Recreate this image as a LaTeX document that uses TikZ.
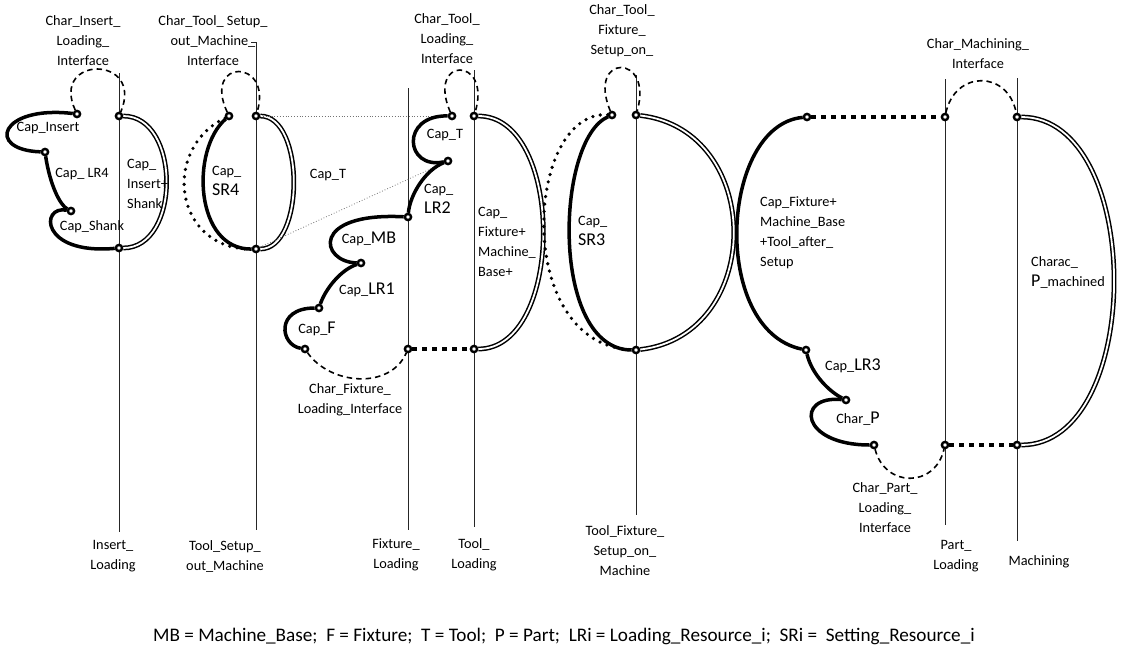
\documentclass[tikz,border=0pt]{standalone}
\usepackage{fontspec}
\setmainfont{Carlito}
\newcommand\bigt[1]{{\fontsize{18}{20}\selectfont #1}}
\tikzset{
  x=1pt, y=-1pt,
  vline/.style={draw=black!85, line width=0.9pt},
  nd/.style={circle, draw, line width=2.4pt, fill=white, inner sep=0pt, minimum size=6.2pt},
  thk/.style={line width=3.5pt},
  dbl/.style={double, line width=1.5pt, double distance=1.8pt},
  dashc/.style={line width=1.6pt, dash pattern=on 5.5pt off 4pt},
  sqdots/.style={line width=4.5pt, dash pattern=on 5pt off 5pt},
  rdots/.style={line width=3.6pt, dash pattern=on 0pt off 7.5pt, line cap=round},
  gdot/.style={draw=black!55, line width=0.8pt, dotted},
  lbl/.style={font=\fontsize{14.3}{20}\selectfont, align=center, inner sep=0pt},
  lbll/.style={font=\fontsize{14.3}{20}\selectfont, align=left, inner sep=0pt, anchor=west},
}
\begin{document}
\begin{tikzpicture}
\useasboundingbox (0,0) rectangle (1124,654);
% vertical lines
\coordinate (t1) at (119,73);  \coordinate (b1) at (119,532);
\coordinate (t2) at (256,42);  \coordinate (b2) at (256,530);
\coordinate (t3) at (408,88);  \coordinate (b3) at (408,530);
\coordinate (t4) at (474,70);  \coordinate (b4) at (474,527);
\coordinate (t5) at (636,75);  \coordinate (b5) at (636,515);
\coordinate (t6) at (945,79);  \coordinate (b6) at (945,525);
\coordinate (t7) at (1017,78); \coordinate (b7) at (1017,541);
\foreach \i in {1,...,7} {\draw[vline] (t\i) -- (b\i);}
\draw[vline] (t2) -- ++(-5,0);
% nodes
\node[nd] (n1a) at (77,114) {};
\node[nd] (n1b) at (119,116) {};
\node[nd] (n1c) at (45,152) {};
\node[nd] (n1d) at (71,211) {};
\node[nd] (n1e) at (119,248) {};
\node[nd] (n2a) at (229,116) {};
\node[nd] (n2b) at (256,116) {};
\node[nd] (n2c) at (256,249) {};
\node[nd] (n3a) at (452,116) {};
\node[nd] (n3b) at (474,116) {};
\node[nd] (n3c) at (448,161) {};
\node[nd] (n3d) at (408,217) {};
\node[nd] (n3e) at (361,263) {};
\node[nd] (n3f) at (319,308) {};
\node[nd] (n3g) at (305,349) {};
\node[nd] (n3h) at (408,349) {};
\node[nd] (n3i) at (474,349) {};
\node[nd] (n4a) at (612,115) {};
\node[nd] (n4b) at (636,115) {};
\node[nd] (n4c) at (636,350) {};
\node[nd] (n5a) at (807,117) {};
\node[nd] (n5b) at (945,117) {};
\node[nd] (n5c) at (1017,117) {};
\node[nd] (n5d) at (806,350) {};
\node[nd] (n5e) at (846,400) {};
\node[nd] (n5f) at (874,445) {};
\node[nd] (n5g) at (945,445) {};
\node[nd] (n5h) at (1017,445) {};
% group 1
\draw[dashc] (n1a) .. controls (50,55) and (145,55) .. (n1b);
\draw[thk] (n1a) .. controls (0,105) and (-15,150) .. (n1c);
\draw[thk] (n1c) .. controls (50,185) and (60,205) .. (n1d);
\draw[thk] (n1d) .. controls (40,205) and (40,255) .. (n1e);
\draw[dbl] (n1b) .. controls (181,116) and (181,248) .. (n1e);
% group 2
\draw[rdots] (n2a) .. controls (160,150) and (175,250) .. (n2c);
\draw[dashc] (n2a) .. controls (202,58) and (273,58) .. (n2b);
\draw[thk] (n2a) .. controls (190,150) and (195,250) .. (n2c);
\draw[dbl] (n2b) .. controls (305,116) and (305,249) .. (n2c);
\draw[gdot] (n2b) -- (n3a);
\draw[gdot] (n2c) -- (n3c);
% group 3
\draw[dashc] (n3a) .. controls (426,56) and (492,56) .. (n3b);
\draw[thk] (n3a) .. controls (400,115) and (405,170) .. (n3c);
\draw[thk] (n3c) .. controls (425,170) and (410,195) .. (n3d);
\draw[thk] (n3d) .. controls (310,212) and (320,262) .. (n3e);
\draw[thk] (n3e) .. controls (340,270) and (325,290) .. (n3f);
\draw[thk] (n3f) .. controls (275,308) and (280,345) .. (n3g);
\draw[dashc] (n3g) .. controls (330,385) and (390,390) .. (n3h);
\draw[sqdots] (n3h) -- (n3i);
\draw[dbl] (n3b) .. controls (565,116) and (565,349) .. (n3i);
% group 4
\draw[rdots] (n4a) .. controls (525,110) and (512,345) .. (n4c);
\draw[thk] (n4a) .. controls (555,140) and (550,350) .. (n4c);
\draw[dashc] (n4a) .. controls (586,53) and (654,53) .. (n4b);
\draw[dbl] (n4b) .. controls (765,130) and (765,335) .. (n4c);
% group 5
\draw[thk] (n5a) .. controls (720,125) and (710,330) .. (n5d);
\draw[sqdots] (n5a) -- (n5b);
\draw[dashc] (n5b) .. controls (955,70) and (1008,70) .. (n5c);
\draw[dbl] (n5c) .. controls (1145,117) and (1145,445) .. (n5h);
\draw[thk] (n5d) .. controls (812,375) and (830,392) .. (n5e);
\draw[thk] (n5e) .. controls (795,395) and (800,445) .. (n5f);
\draw[dashc] (n5f) .. controls (885,488) and (935,488) .. (n5g);
\draw[sqdots] (n5g) -- (n5h);
% labels
\node[lbl] (l1) at (83,41) {Char\_Insert\_\\Loading\_\\Interface};
\node[lbl] (l2) at (213,41) {Char\_Tool\_ Setup\_\\out\_Machine\_\\Interface};
\node[lbl] (l3) at (48,128) {Cap\_Insert};
\node[lbl] (l4) at (82,174) {Cap\_ LR4};
\node[lbl] (l5) at (92,227) {Cap\_Shank};
\node[lbll] (l6) at (127,184) {Cap\_\\Insert+\\Shank};
\node[lbll] (l7) at (212,181) {Cap\_\\\bigt{SR4}};
\node[lbl] (l8) at (328,175) {Cap\_T};
\node[lbl] (l9) at (447,39) {Char\_Tool\_\\Loading\_\\Interface};
\node[lbl] (l10) at (445,135) {Cap\_T};
\node[lbll] (l11) at (424,199) {Cap\_\\\bigt{LR2}};
\node[lbl] (l12) at (369,239) {Cap\_\bigt{MB}};
\node[lbl] (l13) at (367,290) {Cap\_\bigt{LR1}};
\node[lbl] (l14) at (317,329) {Cap\_\bigt{F}};
\node[lbl] (l15) at (350,400) {Char\_Fixture\_\\Loading\_Interface};
\node[lbll] (l16) at (478,242) {Cap\_\\Fixture+\\Machine\_\\Base+};
\node[lbl] (l17) at (622,31) {Char\_Tool\_\\Fixture\_\\Setup\_on\_};
\node[lbll] (l18) at (578,231) {Cap\_\\\bigt{SR3}};
\node[lbll] (l19) at (760,233) {Cap\_Fixture+\\Machine\_Base\\+Tool\_after\_\\Setup};
\node[lbl] (l20) at (978,54) {Char\_Machining\_\\Interface};
\node[lbll] (l21) at (1031,272) {Charac\_\\\bigt{P}\_machined};
\node[lbl] (l22) at (853,366) {Cap\_\bigt{LR3}};
\node[lbl] (l23) at (858,419) {Char\_\bigt{P}};
\node[lbl] (l24) at (885,508) {Char\_Part\_\\Loading\_\\Interface};
\node[lbl] (l25) at (113,556) {Insert\_\\Loading};
\node[lbl] (l26) at (225,556) {Tool\_Setup\_\\out\_Machine};
\node[lbl] (l27) at (396,555) {Fixture\_\\Loading};
\node[lbl] (l28) at (474,555) {Tool\_\\Loading};
\node[lbl] (l29) at (625,551) {Tool\_Fixture\_\\Setup\_on\_\\Machine};
\node[lbl] (l30) at (956,556) {Part\_\\Loading};
\node[lbl] (l31) at (1039,562) {Machining};
\node[lbl, font=\fontsize{19.2}{22}\selectfont] (l32) at (564,636) {MB = Machine\_Base;\ \ F = Fixture;\ \ T = Tool;\ \ P = Part;\ \ LRi = Loading\_Resource\_i;\ \ SRi =\ \ Setting\_Resource\_i};
\end{tikzpicture}
\end{document}
